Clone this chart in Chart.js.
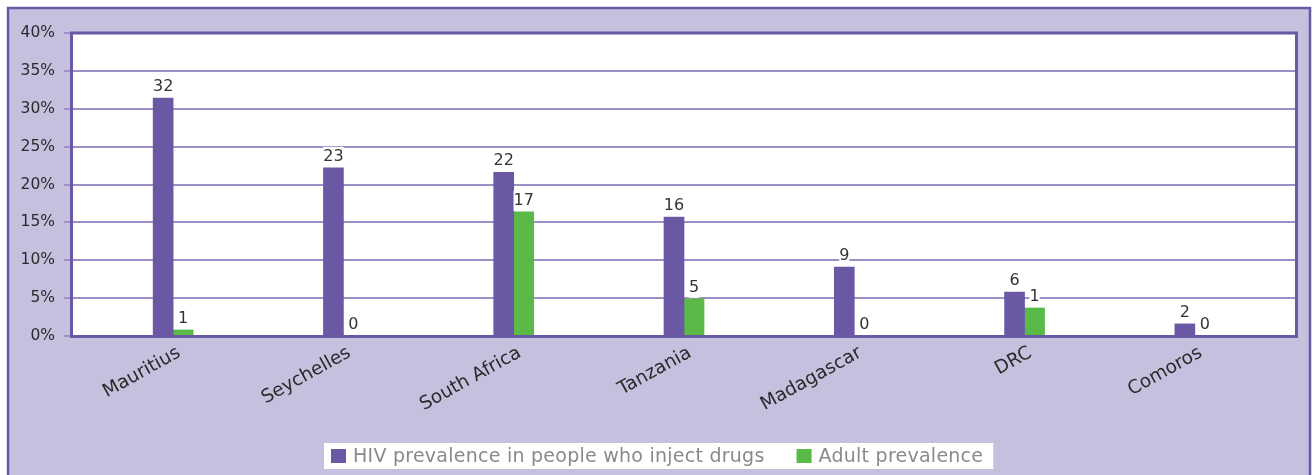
<!DOCTYPE html>
<html>
<head>
<meta charset="utf-8">
<script src="https://cdn.jsdelivr.net/npm/chart.js@4.4.1/dist/chart.umd.min.js"></script>
<style>
  html, body { margin: 0; padding: 0; background: #ffffff; }
  #wrap { width: 1314px; height: 475px; }
</style>
</head>
<body>
<div id="wrap"><canvas id="c" width="1314" height="475"></canvas></div>
<script>
// ---- data ----
const categories = ['Mauritius', 'Seychelles', 'South Africa', 'Tanzania', 'Madagascar', 'DRC', 'Comoros'];
const iduPrevalence = [31.4, 22.2, 21.6, 15.7, 9.1, 5.8, 1.6];
const adultPrevalence = [0.8, 0, 16.4, 4.9, 0, 3.7, 0];
const iduLabels = ['32', '23', '22', '16', '9', '6', '2'];
const adultLabels = ['1', '0', '17', '5', '0', '1', '0'];
const seriesNames = ['HIV prevalence in people who inject drugs', 'Adult prevalence'];
const yTickMin = 0, yTickMax = 40, yTickStep = 5;

// ---- styles ----
const PURPLE = '#6a58a5';
const GREEN = '#5bba47';
const LAVENDER = '#c5c0de';
const GRID = '#9d8fc8';
const FONT = '"DejaVu Sans", "Liberation Sans", sans-serif';

const decorPlugin = {
  id: 'decor',
  beforeDraw(chart) {
    const ctx = chart.ctx;
    ctx.save();
    ctx.fillStyle = '#ffffff';
    ctx.fillRect(0, 0, chart.width, chart.height);
    ctx.fillStyle = LAVENDER;
    ctx.fillRect(7, 7, 1304, 480);
    ctx.strokeStyle = PURPLE;
    ctx.lineWidth = 2.5;
    ctx.strokeRect(8, 8, 1302, 480);
    ctx.restore();
  },
  beforeDatasetsDraw(chart) {
    const ctx = chart.ctx;
    const y = chart.scales.y;
    const left = 71, right = 1297;
    const top = y.getPixelForValue(yTickMax), bottom = y.getPixelForValue(yTickMin);
    ctx.save();
    ctx.fillStyle = '#ffffff';
    ctx.fillRect(left, top, right - left, bottom - top);
    ctx.strokeStyle = GRID;
    ctx.lineWidth = 2;
    y.ticks.forEach(t => {
      const py = Math.round(y.getPixelForValue(t.value));
      ctx.beginPath();
      ctx.moveTo(64, py);
      ctx.lineTo(t.value === yTickMin || t.value === yTickMax ? left : right, py);
      ctx.stroke();
    });
    ctx.restore();
  },
  afterDatasetsDraw(chart) {
    const ctx = chart.ctx;
    const y = chart.scales.y;
    const left = 71.5, right = 1296.5;
    const top = y.getPixelForValue(yTickMax), bottom = y.getPixelForValue(yTickMin) + 0.5;
    ctx.save();
    ctx.strokeStyle = PURPLE;
    ctx.lineWidth = 3;
    ctx.beginPath();
    ctx.moveTo(left, top);
    ctx.lineTo(right, top);
    ctx.lineTo(right, bottom);
    ctx.lineTo(left, bottom);
    ctx.closePath();
    ctx.stroke();

    // value labels
    const labelSets = [iduLabels, adultLabels];
    ctx.font = '16px ' + FONT;
    ctx.textAlign = 'center';
    ctx.textBaseline = 'alphabetic';
    chart.data.datasets.forEach((ds, di) => {
      const meta = chart.getDatasetMeta(di);
      meta.data.forEach((bar, i) => {
        const txt = labelSets[di][i];
        const w = ctx.measureText(txt).width;
        const base = bar.y - 7;
        ctx.fillStyle = '#ffffff';
        ctx.fillRect(bar.x - w / 2, base - 14, w, 20);
        ctx.fillStyle = '#333333';
        ctx.fillText(txt, bar.x, base);
      });
    });

    // legend
    const lx = 324, ly = 443, lh = 26;
    ctx.font = '19px ' + FONT;
    try { ctx.letterSpacing = '0.25px'; } catch (e) {}
    const colors = [PURPLE, GREEN];
    const names = chart.data.datasets.map(d => d.label);
    const widths = names.map(n => ctx.measureText(n).width);
    let x = lx + 7;
    const items = [];
    names.forEach((n, i) => {
      items.push({ sx: x, tx: x + 22, name: n, color: colors[i] });
      x = x + 22 + widths[i] + 32;
    });
    const boxRight = x - 32 + 10;
    ctx.fillStyle = '#ffffff';
    ctx.fillRect(lx, ly, boxRight - lx, lh);
    ctx.textAlign = 'left';
    ctx.textBaseline = 'middle';
    items.forEach(it => {
      ctx.fillStyle = it.color;
      ctx.fillRect(it.sx, ly + 6, 15, 14);
      ctx.fillStyle = '#8a8a8a';
      ctx.fillText(it.name, it.tx, ly + lh / 2 + 1);
    });
    ctx.restore();
  }
};

new Chart(document.getElementById('c'), {
  type: 'bar',
  data: {
    labels: categories,
    datasets: [
      { label: seriesNames[0], data: iduPrevalence, backgroundColor: PURPLE, barThickness: 20 },
      { label: seriesNames[1], data: adultPrevalence, backgroundColor: GREEN, barThickness: 20 }
    ]
  },
  options: {
    responsive: false,
    animation: false,
    layout: { padding: { top: 33, right: 34, left: 0, bottom: 0 } },
    plugins: {
      legend: { display: false },
      tooltip: { enabled: false }
    },
    scales: {
      x: {
        grid: { display: false, drawTicks: false },
        border: { display: false },
        ticks: {
          autoSkip: false,
          minRotation: 29,
          maxRotation: 29,
          padding: 6,
          labelOffset: 6,
          color: '#2a2a2a',
          font: { family: FONT, size: 18.5 }
        },
        afterFit(s) { s.height = 139; }
      },
      y: {
        min: yTickMin,
        max: yTickMax,
        grid: { display: false, drawTicks: false },
        border: { display: false },
        ticks: {
          stepSize: yTickStep,
          padding: 33,
          color: '#2a2a2a',
          font: { family: FONT, size: 15.5 },
          callback: v => v + '%'
        },
        afterFit(s) { s.width = 88; s.paddingTop = 0; s.paddingBottom = 0; }
      }
    }
  },
  plugins: [decorPlugin]
});
</script>
</body>
</html>
